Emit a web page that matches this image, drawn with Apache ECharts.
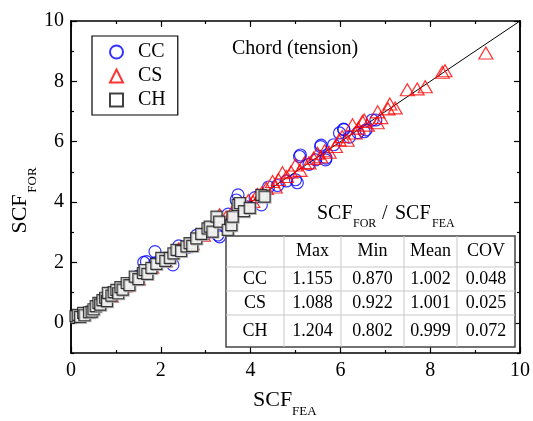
<!DOCTYPE html>
<html>
<head>
<meta charset="utf-8">
<script src="https://cdn.jsdelivr.net/npm/echarts@6/dist/echarts.min.js"></script>
<style>
  html, body { margin: 0; padding: 0; background: #fff; }
  #main { width: 533px; height: 421px; }
</style>
</head>
<body>
<div id="main"></div>
<script>
// SCF_FOR vs SCF_FEA, chord (tension)
var ccData = [[1.50,1.55],[1.62,2.00],[1.68,2.03],[1.87,1.99],[1.87,2.36],[2.00,2.05],[2.27,1.92],[2.40,2.55],
  [2.60,2.50],[2.80,2.90],[3.00,2.95],[3.27,2.91],[3.31,2.85],[3.50,3.60],[3.68,4.07],[3.72,4.24],[3.90,3.85],
  [4.10,4.15],[4.24,3.91],[4.40,4.50],[4.60,4.55],[4.80,4.70],[5.00,4.74],[5.04,4.64],[5.09,5.51],[5.11,5.56],
  [5.30,5.25],[5.45,5.40],[5.57,5.89],[5.56,5.84],[5.67,5.40],[5.68,5.46],[5.85,5.90],[5.98,6.29],[6.07,6.42],
  [6.08,6.40],[6.20,6.15],[6.39,6.30],[6.53,6.33],[6.57,6.39],[6.71,6.72],[6.79,6.72]];

var csData = [[0.60,0.62],[0.90,0.88],[1.20,1.22],[1.50,1.45],[1.80,1.85],[2.10,2.05],[2.40,2.45],[2.70,2.62],
  [2.95,2.90],[3.10,3.05],[3.31,3.58],[3.45,3.50],[3.60,3.70],[3.75,3.80],[3.85,3.95],[3.95,4.05],[4.05,4.02],
  [4.15,4.25],[4.25,4.30],[4.35,4.45],[4.49,4.68],[4.55,4.50],[4.62,4.75],[4.71,4.97],[4.80,4.85],[4.90,5.00],
  [5.00,5.23],[5.10,5.05],[5.20,5.30],[5.30,5.30],[5.40,5.45],[5.49,5.62],[5.56,5.50],[5.65,5.70],[5.75,5.65],
  [5.89,5.84],[5.97,6.06],[6.04,6.17],[6.15,6.05],[6.27,6.56],[6.33,6.29],[6.40,6.45],[6.49,6.67],[6.53,6.72],
  [6.60,6.55],[6.82,6.63],[6.83,6.99],[6.90,6.80],[7.06,7.09],[7.10,7.25],[7.22,7.12],[7.49,7.72],[7.71,7.75],
  [7.89,7.82],[8.27,8.30],[8.33,8.35],[9.24,8.94]];

var chData = [[0.10,0.22],[0.15,0.26],[0.20,0.20],[0.27,0.33],[0.30,0.25],[0.40,0.35],[0.46,0.37],[0.50,0.45],
  [0.55,0.55],[0.61,0.66],[0.65,0.60],[0.70,0.75],[0.76,0.83],[0.80,0.72],[0.82,0.99],[0.90,0.90],[0.95,1.02],
  [1.01,1.09],[1.05,0.98],[1.10,1.18],[1.15,1.10],[1.24,1.32],[1.30,1.25],[1.42,1.53],[1.50,1.45],[1.60,1.65],
  [1.64,1.75],[1.70,1.62],[1.79,1.82],[1.90,1.95],[2.01,2.15],[2.10,2.05],[2.20,2.15],[2.28,2.30],[2.35,2.42],
  [2.45,2.38],[2.57,2.53],[2.64,2.64],[2.70,2.55],[2.79,2.80],[2.90,2.95],[3.04,3.13],[3.09,3.19],[3.15,3.02],
  [3.24,3.52],[3.30,3.35],[3.49,3.08],[3.57,3.24],[3.60,3.52],[3.71,3.91],[3.76,3.97],[3.85,3.70],[3.98,3.81],
  [4.24,4.24],[4.31,4.18]];

var refLine = [[0,0],[10,10]];
var yMajor = [0, 2, 4, 6, 8, 10];
var yMinor = [-1, 1, 3, 5, 7, 9];

var tableHead = ['', 'Max', 'Min', 'Mean', 'COV'];
var tableRows = [
  ['CC', '1.155', '0.870', '1.002', '0.048'],
  ['CS', '1.088', '0.922', '1.001', '0.025'],
  ['CH', '1.204', '0.802', '0.999', '0.072']
];

var FONT = 'Liberation Serif';
var colX = [226, 284, 341, 404, 457, 515];
var rowY = [236, 267, 291, 315, 347];

var chartDom = document.getElementById('main');
var myChart = echarts.init(chartDom);

function yAx(pos, vals, len, labels) {
  return {
    type: 'value', position: pos, offset: 0, min: -1, max: 10,
    axisLine: { show: true, onZero: false, lineStyle: { color: '#000', width: 1.5 } },
    axisTick: { show: true, inside: true, length: len, customValues: vals, lineStyle: { color: '#000', width: 1.2 } },
    axisLabel: { show: labels, customValues: yMajor, margin: 7, fontFamily: FONT, fontSize: 20, color: '#000' },
    splitLine: { show: false }
  };
}
function xAx(pos, labels) {
  return {
    type: 'value', position: pos, min: 0, max: 10, interval: 2,
    axisLine: { show: true, onZero: false, lineStyle: { color: '#000', width: 1.5 } },
    axisTick: { show: true, inside: true, length: 6, lineStyle: { color: '#000', width: 1.2 } },
    minorTick: { show: true, splitNumber: 2, length: 3, lineStyle: { color: '#000', width: 1.2 } },
    axisLabel: { show: labels, margin: 8, fontFamily: FONT, fontSize: 20, color: '#000' },
    splitLine: { show: false }, minorSplitLine: { show: false }
  };
}

var graphics = [];
function txt(x, y, s, size, align, rot) {
  graphics.push({
    type: 'text', x: x, y: y, rotation: rot || 0, z: 110,
    style: { text: s, fontFamily: FONT, fontSize: size, fill: '#000', align: align || 'left', verticalAlign: 'middle' }
  });
}
txt(232, 49, 'Chord (tension)', 20);
// axis titles
txt(253, 400, 'SCF', 22);
txt(292, 412, 'FEA', 13);
txt(20, 214, 'SCF', 22, 'center', Math.PI / 2);
txt(33, 180, 'FOR', 13, 'center', Math.PI / 2);
// table title
txt(317, 214, 'SCF', 20);
txt(353, 224, 'FOR', 12);
txt(382, 214, '/', 20);
txt(395, 214, 'SCF', 20);
txt(432, 224, 'FEA', 12);

// table
graphics.push({
  type: 'rect', z: 100, shape: { x: colX[0], y: rowY[0], width: colX[5] - colX[0], height: rowY[4] - rowY[0] },
  style: { fill: '#fff', stroke: '#444', lineWidth: 1.5 }
});
for (var i = 1; i < colX.length - 1; i++) {
  graphics.push({ type: 'line', z: 101, shape: { x1: colX[i], y1: rowY[0], x2: colX[i], y2: rowY[4] }, style: { stroke: '#c8c8c8', lineWidth: 1 } });
}
for (var j = 1; j < rowY.length - 1; j++) {
  graphics.push({ type: 'line', z: 101, shape: { x1: colX[0], y1: rowY[j], x2: colX[5], y2: rowY[j] }, style: { stroke: '#c8c8c8', lineWidth: 1 } });
}
[tableHead].concat(tableRows).forEach(function (row, r) {
  row.forEach(function (cell, c) {
    if (!cell) return;
    txt((colX[c] + colX[c + 1]) / 2, (rowY[r] + rowY[r + 1]) / 2, cell, 18, 'center');
  });
});

var option = {
  animation: false,
  backgroundColor: '#fff',
  grid: { left: 71, top: 21, width: 450, height: 332 },
  legend: {
    orient: 'vertical', left: 92, top: 36,
    padding: [6, 12, 5, 17], itemGap: 4, itemWidth: 13, itemHeight: 13,
    borderColor: '#000', borderWidth: 1.2, backgroundColor: '#fff',
    textStyle: { fontFamily: FONT, fontSize: 20, color: '#000', padding: [0, 0, 0, 10] },
    data: ['CC', 'CS', 'CH']
  },
  xAxis: [xAx('bottom', true), xAx('top', false)],
  yAxis: [yAx('left', yMajor, 6, true), yAx('right', yMajor, 6, false), yAx('left', yMinor, 3, false), yAx('right', yMinor, 3, false)],
  graphic: graphics,
  series: [
    {
      type: 'line', data: refLine, showSymbol: false, silent: true, z: 1,
      lineStyle: { color: '#000', width: 1 }
    },
    {
      name: 'CC', type: 'scatter', data: ccData, symbol: 'circle', symbolSize: 12, z: 2,
      itemStyle: { color: 'rgba(0,0,0,0)', borderColor: '#0000ff', borderWidth: 1.2 }
    },
    {
      name: 'CS', type: 'scatter', data: csData, symbol: 'triangle', symbolSize: [14, 12], z: 3,
      itemStyle: { color: 'rgba(0,0,0,0)', borderColor: '#ff0000', borderWidth: 1.2 }
    },
    {
      name: 'CH', type: 'scatter', data: chData, symbol: 'rect', symbolSize: 11, z: 4,
      itemStyle: { color: '#fff', borderColor: '#111', borderWidth: 1.2, shadowColor: '#aaa', shadowOffsetX: 1, shadowOffsetY: 1 }
    }
  ]
};

option && myChart.setOption(option);
</script>
</body>
</html>
